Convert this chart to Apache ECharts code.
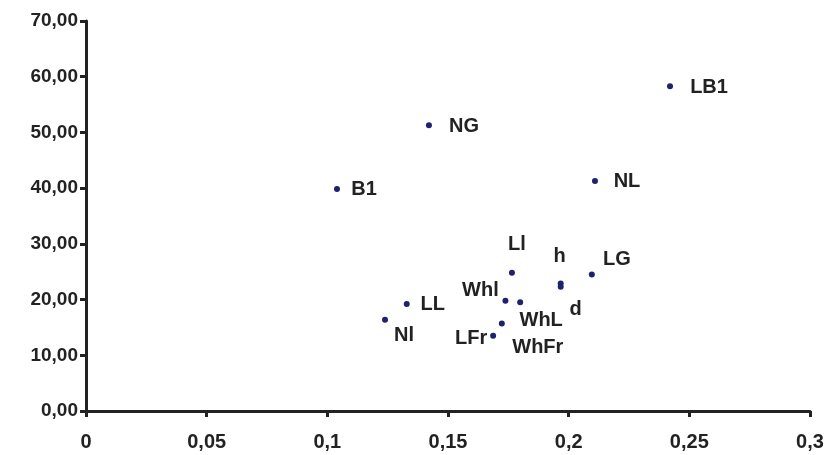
<!DOCTYPE html>
<html><head><meta charset="utf-8">
<script src="https://cdn.jsdelivr.net/npm/echarts@6/dist/echarts.min.js"></script>
<style>html,body{margin:0;padding:0;background:#fff}#c{width:829px;height:455px}</style>
</head><body><div id="c"></div>
<script>
const names = ['LB1','NG','B1','NL','Ll','h','d','LG','LL','Nl','Whl','WhL','WhFr','LFr'];
const xValues = [0.2420,0.1421,0.1040,0.2109,0.1765,0.1967,0.1967,0.2096,0.1329,0.1239,0.1738,0.1799,0.1723,0.1687];
const yValues = [58.3,51.3,39.85,41.3,24.8,22.9,22.3,24.5,19.2,16.4,19.8,19.5,15.7,13.5];
const xTicks = [0,0.05,0.1,0.15,0.2,0.25,0.3];
const yTicks = [0,10,20,30,40,50,60,70];
// label offsets (from point centre, px)
const labelOffsets = [[39,1],[35,1],[27,1],[32,1],[5,-28],[-1,-27],[15,23],[25,-15],[26,0],[19,16],[-25,-10],[21,18],[36,24],[-22,3]];

const data = names.map((n,i)=>({
  name:n, value:[xValues[i],yValues[i]],
  label:{offset:labelOffsets[i]}
}));
const chart = echarts.init(document.getElementById('c'));
const fmt = v => String(v).replace('.',',');
chart.setOption({
  animation:false,
  grid:{left:86,right:19,top:21,bottom:44},
  xAxis:{type:'value',min:xTicks[0],max:xTicks[xTicks.length-1],interval:0.05,splitLine:{show:false},
    axisLine:{lineStyle:{color:'#222',width:3}},
    axisTick:{show:true,length:6,lineStyle:{color:'#222',width:3}},
    axisLabel:{margin:21,color:'#222',fontFamily:'Liberation Sans',fontWeight:'bold',fontSize:20,
      formatter:v=>fmt(+v.toFixed(2))}},
  yAxis:{type:'value',min:yTicks[0],max:yTicks[yTicks.length-1],interval:10,splitLine:{show:false},
    axisLine:{show:true,lineStyle:{color:'#222',width:3}},
    axisTick:{show:true,length:6,lineStyle:{color:'#222',width:3}},
    axisLabel:{margin:8,color:'#222',fontFamily:'Liberation Sans',fontWeight:'bold',fontSize:19,
      formatter:v=>v.toFixed(2).replace('.',',')}},
  series:[{type:'scatter',symbolSize:6,itemStyle:{color:'#1f2070',opacity:1},data:data,
    label:{show:true,position:'inside',formatter:p=>p.name,color:'#222',fontFamily:'Liberation Sans',fontWeight:'bold',fontSize:20}}]
});
</script></body></html>
